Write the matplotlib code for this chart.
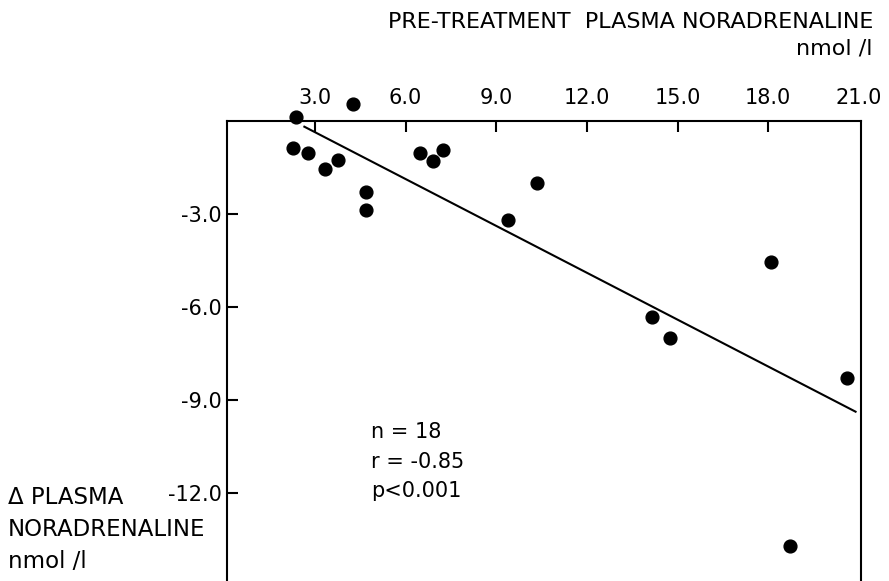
import numpy as np
import matplotlib
matplotlib.use("Agg")
import matplotlib.pyplot as plt

# pre-treatment plasma noradrenaline (nmol/l) vs change after treatment
pre_na = [2.37, 4.27, 2.28, 2.78, 3.33, 3.77, 4.68, 4.68, 6.48,
          6.92, 7.23, 9.40, 10.34, 14.16, 14.76, 18.08, 20.60, 18.72]
delta_na = [0.12, 0.53, -0.90, -1.04, -1.57, -1.28, -2.32, -2.90, -1.06,
            -1.30, -0.95, -3.22, -2.01, -6.33, -7.00, -4.57, -8.29, -13.71]

# regression line end points
fit_x = [2.65, 20.89]
fit_y = [-0.20, -9.39]

xticks = [3.0, 6.0, 9.0, 12.0, 15.0, 18.0, 21.0]
yticks = [-3.0, -6.0, -9.0, -12.0]
stats = ["n = 18", "r = -0.85", "p<0.001"]
ylabel_lines = ["\u0394 PLASMA", "NORADRENALINE", "nmol /l"]

plt.rcParams['font.family'] = ['DejaVu Sans']
plt.rcParams['axes.unicode_minus'] = False

fig = plt.figure(figsize=(8.89, 5.81), dpi=100)
ax = fig.add_axes([227 / 889, 0.0, 634 / 889, 1 - 120.5 / 581])

ax.plot(pre_na, delta_na, 'o', color='black', markersize=9.2, clip_on=False, zorder=3)
ax.plot(fit_x, fit_y, color='black', linewidth=1.5)

ax.set_xlim(0.09, 21.07)
ax.set_ylim(-14.85, 0)

ax.xaxis.tick_top()
ax.set_xticks(xticks)
ax.set_xticklabels(["%.1f" % v for v in xticks])
ax.set_yticks(yticks)
ax.set_yticklabels(["%.1f" % v for v in yticks])
ax.tick_params(axis='x', direction='in', length=8, width=1.5, pad=9, labelsize=15)
ax.tick_params(axis='y', direction='in', length=8, width=1.5, pad=4, labelsize=15)
# 21.0 sits on the right edge, no tick mark drawn there
ax.xaxis.get_major_ticks()[-1].tick2line.set_visible(False)

for s in ['top', 'left', 'right']:
    ax.spines[s].set_linewidth(1.5)
ax.spines['bottom'].set_visible(False)

ax.text(4.85, -11.0, "\n".join(stats), fontsize=15, va='center', ha='left', linespacing=1.6)

fig.text(873 / 889, 1 - 22 / 581, "PRE-TREATMENT  PLASMA NORADRENALINE",
         ha='right', va='center', fontsize=16)
fig.text(873 / 889, 1 - 48 / 581, "nmol /l", ha='right', va='center', fontsize=16)
for i, line in enumerate(ylabel_lines):
    fig.text(8 / 889, 1 - (498 + 32 * i) / 581, line,
             ha='left', va='center', fontsize=16.5)

fig.savefig("out.png", dpi=100)
